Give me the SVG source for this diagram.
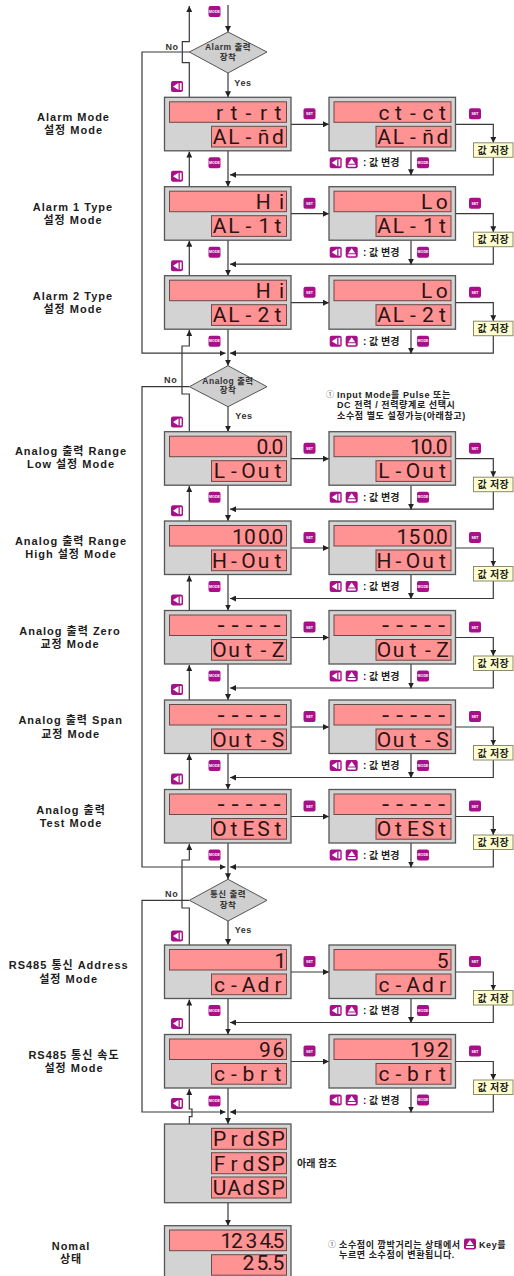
<svg xmlns="http://www.w3.org/2000/svg" width="514" height="1276" viewBox="0 0 514 1276">
<style>
text{font-family:"Liberation Sans","Noto Sans CJK KR",sans-serif;font-weight:700;fill:#1c1c1c}
.lb{font-size:11px;letter-spacing:1px;text-anchor:middle}
.dt{font-size:8.5px;letter-spacing:.5px;text-anchor:middle;fill:#333}
.yn{font-size:9px;letter-spacing:.6px;text-anchor:middle;fill:#333}
.nt{font-size:9px;letter-spacing:.6px;fill:#222}
.ci{font-size:8px;font-weight:400;fill:#555}
.op{font-size:10px;fill:#222}
.sv{font-size:10px;letter-spacing:.3px;text-anchor:middle;fill:#222}
.d{font-family:Roboto,"Liberation Sans",sans-serif;font-weight:400;font-size:21px;text-anchor:middle;fill:#2a1414}
.d2{font-family:"Liberation Mono",monospace;font-weight:400;font-size:22px;text-anchor:middle;fill:#2a1414}
.p{fill:#d3d3d3;stroke:#555;stroke-width:1.3}
.s{fill:#ff9292;stroke:#6a4a4a;stroke-width:1}
.k{fill:#a8108a}
.kt{font-size:3.6px;fill:#fff;text-anchor:middle}
.b{fill:#ffffcf;stroke:#8a8a70;stroke-width:1}
.dm{fill:#cfcfcf;stroke:#555;stroke-width:1}
.c path{fill:none;stroke:#383838;stroke-width:1.2;marker-end:url(#ar)}
</style>
<defs>
<marker id="ar" markerUnits="userSpaceOnUse" markerWidth="6" markerHeight="6" refX="6" refY="3" orient="auto"><path d="M0,0L6,3L0,6Z" fill="#222"/></marker>
<g id="kL"><rect class="k" x="-6" y="-5.5" width="12" height="11" rx="2"/><path d="M-4,0L1.5,-3.5V3.5ZM2.8,-3.5H4.6V3.5H2.8Z" fill="#fff"/></g>
<g id="kU"><rect class="k" x="-6" y="-5.5" width="12" height="11" rx="2"/><path d="M0,-4L3.5,1H-3.5ZM-4,2H4V4H-4Z" fill="#fff"/></g>
</defs>

<g id="connectors" class="c">
<path d="M228,5V32"/><path d="M228,73V97.3"/><path d="M228,151V186.7"/><path d="M228,240V275.7"/><path d="M228,329V365.7"/><path d="M228,406.7V431.7"/><path d="M228,485V521"/><path d="M228,574.5V610.5"/><path d="M228,664V700"/><path d="M228,753.5V789.5"/><path d="M228,843V879.3"/><path d="M228,921V945"/><path d="M228,998.5V1034.5"/><path d="M228,1088V1124"/><path d="M228,1202.7V1225.7"/>
<path d="M189.3,97.3V62.7H182.3V41.7H189.3V6"/><path d="M189.3,186.7V151.5"/><path d="M189.3,275.7V240.7"/><path d="M189.3,431.7V394H182V346H189.3V330"/><path d="M189.3,521V486"/><path d="M189.3,610.5V575.5"/><path d="M189.3,700V665"/><path d="M189.3,789.5V754"/><path d="M189.3,945V908H182V860H189.3V844"/><path d="M189.3,1034.5V999.5"/><path d="M189.3,1124V1116.7H192V1109H189.3V1089"/>
<path d="M189.5,52H142V353.2H225.5"/><path d="M189,386.7H142V867H225.5"/><path d="M189,900.3H142V1112H225.5"/>
<path d="M291,124.3H329"/><path d="M455,124.3H493.3V142.8"/><path d="M493.3,157.3V174.8H230"/><path d="M411,150.8V175.3"/>
<path d="M291,213.7H329"/><path d="M455,213.7H493.3V232.2"/><path d="M493.3,246.7V264.2H230"/><path d="M411,240.2V264.7"/>
<path d="M291,302.7H329"/><path d="M455,302.7H493.3V321.2"/><path d="M493.3,335.7V353.2H230"/><path d="M411,329.2V353.7"/>
<path d="M291,458.7H329"/><path d="M455,458.7H493.3V477.2"/><path d="M493.3,491.7V509.2H230"/><path d="M411,485.2V509.7"/>
<path d="M291,548H329"/><path d="M455,548H493.3V566.5"/><path d="M493.3,581V598.5H230"/><path d="M411,574.5V599"/>
<path d="M291,637.5H329"/><path d="M455,637.5H493.3V656"/><path d="M493.3,670.5V688H230"/><path d="M411,664V688.5"/>
<path d="M291,727H329"/><path d="M455,727H493.3V745.5"/><path d="M493.3,760V777.5H230"/><path d="M411,753.5V778"/>
<path d="M291,816.5H329"/><path d="M455,816.5H493.3V835"/><path d="M493.3,849.5V867H230"/><path d="M411,843V867.5"/>
<path d="M291,972H329"/><path d="M455,972H493.3V990.5"/><path d="M493.3,1005V1022.5H230"/><path d="M411,998.5V1023"/>
<path d="M291,1061.5H329"/><path d="M455,1061.5H493.3V1080"/><path d="M493.3,1094.5V1112H230"/><path d="M411,1088V1112.5"/>
</g>

<g id="decision-alarm"><path class="dm" d="M228,32L267,52L228,73L189.3,52Z"/><text class="dt" x="228" y="49.5">Alarm 출력</text><text class="dt" x="228" y="59.5">장착</text><text class="yn" x="172" y="49.5">No</text><text class="yn" x="243" y="86">Yes</text></g>
<g id="decision-analog"><path class="dm" d="M228,365.7L267,386.7L228,406.7L189.3,386.7Z"/><text class="dt" x="228" y="384">Analog 출력</text><text class="dt" x="228" y="393">장착</text><text class="yn" x="170.7" y="383">No</text><text class="yn" x="244" y="419">Yes</text></g>
<g id="decision-comm"><path class="dm" d="M228,879.3L267,900.3L228,921L189.3,900.3Z"/><text class="dt" x="228" y="897">통신 출력</text><text class="dt" x="228" y="908">장착</text><text class="yn" x="171.7" y="896.5">No</text><text class="yn" x="243.3" y="933">Yes</text></g>

<g id="labels">
<text class="lb" x="73.5" y="121">Alarm Mode</text><text class="lb" x="73.5" y="134">설정 Mode</text>
<text class="lb" x="73" y="211">Alarm 1 Type</text><text class="lb" x="73" y="224">설정 Mode</text>
<text class="lb" x="73" y="300">Alarm 2 Type</text><text class="lb" x="73" y="313">설정 Mode</text>
<text class="lb" x="71" y="455">Analog 출력 Range</text><text class="lb" x="71" y="468">Low 설정 Mode</text>
<text class="lb" x="71" y="545">Analog 출력 Range</text><text class="lb" x="71" y="558">High 설정 Mode</text>
<text class="lb" x="70" y="635">Analog 출력 Zero</text><text class="lb" x="70" y="648">교정 Mode</text>
<text class="lb" x="70.7" y="724">Analog 출력 Span</text><text class="lb" x="70.7" y="737.5">교정 Mode</text>
<text class="lb" x="71" y="814">Analog 출력</text><text class="lb" x="71" y="827">Test Mode</text>
<text class="lb" x="68.7" y="969">RS485 통신 Address</text><text class="lb" x="68.7" y="982.5">설정 Mode</text>
<text class="lb" x="74" y="1059">RS485 통신 속도</text><text class="lb" x="74" y="1072">설정 Mode</text>
<text class="lb" x="71" y="1249.5">Nomal</text><text class="lb" x="71" y="1263">상태</text>
</g>

<g id="notes">
<text class="ci" x="326" y="397">①</text><text class="nt" x="337" y="397.5">Input Mode를 Pulse 또는</text>
<text class="nt" x="337" y="407.5">DC 전력 / 전력량계로 선택시</text>
<text class="nt" x="337" y="418.5">소수점 별도 설정가능(아래참고)</text>
<text class="op" x="297" y="1167">아래 참조</text>
<text class="ci" x="328" y="1247">①</text><text class="nt" x="339" y="1247.5">소수점이 깜박거리는 상태에서</text><use href="#kU" x="470" y="1244"/><text class="nt" x="479" y="1247.5">Key를</text>
<text class="nt" x="339" y="1257.5">누르면 소수점이 변환됩니다.</text>
</g>

<g id="top-mode"><rect class="k" x="208.5" y="6" width="12" height="11" rx="2"/><text class="kt" x="214.5" y="12.8">MODE</text></g>
<use href="#kL" x="177" y="86.5"/><use href="#kL" x="177" y="422"/><use href="#kL" x="177" y="936"/>

<g id="row1" transform="translate(0,97.3)">
<g id="n1a" transform="translate(164.5,0)"><rect class="p" width="126.5" height="53.5"/><rect class="s" x="5" y="4.5" width="117" height="20.5"/><rect class="s" x="47" y="29" width="75" height="20.7"/><text class="d" x="55 69.5 84 99 113.5" y="22.5">rt-rt</text><text class="d" x="55 69.5 84 99 99 113.5" y="46.7">AL-n̄d</text></g>
<g id="n1b" transform="translate(329,0)"><rect class="p" width="126.5" height="53.5"/><rect class="s" x="5" y="4.5" width="117" height="20.5"/><rect class="s" x="47" y="29" width="75" height="20.7"/><text class="d" x="55 69.5 84 99 113.5" y="22.5">ct-ct</text><text class="d" x="55 69.5 84 99 99 113.5" y="46.7">AL-n̄d</text></g>
<g id="s1"><rect class="b" x="473.5" y="45.5" width="39.5" height="14.5"/><text class="sv" x="493.3" y="56.5">값 저장</text></g>
<rect class="k" x="208.5" y="60" width="12" height="11" rx="2"/><text class="kt" x="214.5" y="66.8">MODE</text><rect class="k" x="303.5" y="11" width="12" height="11" rx="2"/><text class="kt" x="309.5" y="18">SET</text><rect class="k" x="469" y="11" width="12" height="11" rx="2"/><text class="kt" x="475" y="18">SET</text><use href="#kL" x="335.7" y="65.5"/><use href="#kU" x="351.7" y="65.5"/><text class="op" x="363" y="69">: 값 변경</text><rect class="k" x="417" y="60" width="12" height="11" rx="2"/><text class="kt" x="423" y="66.8">MODE</text><use href="#kL" x="177" y="79"/>
</g>

<g id="row2" transform="translate(0,186.7)">
<g id="n2a" transform="translate(164.5,0)"><rect class="p" width="126.5" height="53.5"/><rect class="s" x="5" y="4.5" width="117" height="20.5"/><rect class="s" x="47" y="29" width="75" height="20.7"/><text class="d" x="98.8 117" y="22">Hi</text><text class="d" x="55 69.5 84 100 113.5" y="46.7">AL-1t</text></g>
<g id="n2b" transform="translate(329,0)"><rect class="p" width="126.5" height="53.5"/><rect class="s" x="5" y="4.5" width="117" height="20.5"/><rect class="s" x="47" y="29" width="75" height="20.7"/><text class="d" x="97.7 112.7" y="22">Lo</text><text class="d" x="55 69.5 84 100 113.5" y="46.7">AL-1t</text></g>
<g id="s2"><rect class="b" x="473.5" y="45.5" width="39.5" height="14.5"/><text class="sv" x="493.3" y="56.5">값 저장</text></g>
<rect class="k" x="208.5" y="60" width="12" height="11" rx="2"/><text class="kt" x="214.5" y="66.8">MODE</text><rect class="k" x="303.5" y="11" width="12" height="11" rx="2"/><text class="kt" x="309.5" y="18">SET</text><rect class="k" x="469" y="11" width="12" height="11" rx="2"/><text class="kt" x="475" y="18">SET</text><use href="#kL" x="335.7" y="65.5"/><use href="#kU" x="351.7" y="65.5"/><text class="op" x="363" y="69">: 값 변경</text><rect class="k" x="417" y="60" width="12" height="11" rx="2"/><text class="kt" x="423" y="66.8">MODE</text><use href="#kL" x="177" y="79"/>
</g>

<g id="row3" transform="translate(0,275.7)">
<g id="n3a" transform="translate(164.5,0)"><rect class="p" width="126.5" height="53.5"/><rect class="s" x="5" y="4.5" width="117" height="20.5"/><rect class="s" x="47" y="29" width="75" height="20.7"/><text class="d" x="98.8 117" y="22">Hi</text><text class="d" x="55 69.5 84 99 113.5" y="46.7">AL-2t</text></g>
<g id="n3b" transform="translate(329,0)"><rect class="p" width="126.5" height="53.5"/><rect class="s" x="5" y="4.5" width="117" height="20.5"/><rect class="s" x="47" y="29" width="75" height="20.7"/><text class="d" x="97.7 112.7" y="22">Lo</text><text class="d" x="55 69.5 84 99 113.5" y="46.7">AL-2t</text></g>
<g id="s3"><rect class="b" x="473.5" y="45.5" width="39.5" height="14.5"/><text class="sv" x="493.3" y="56.5">값 저장</text></g>
<rect class="k" x="208.5" y="60" width="12" height="11" rx="2"/><text class="kt" x="214.5" y="66.8">MODE</text><rect class="k" x="303.5" y="11" width="12" height="11" rx="2"/><text class="kt" x="309.5" y="18">SET</text><rect class="k" x="469" y="11" width="12" height="11" rx="2"/><text class="kt" x="475" y="18">SET</text><use href="#kL" x="335.7" y="65.5"/><use href="#kU" x="351.7" y="65.5"/><text class="op" x="363" y="69">: 값 변경</text><rect class="k" x="417" y="60" width="12" height="11" rx="2"/><text class="kt" x="423" y="66.8">MODE</text>
</g>

<g id="row4" transform="translate(0,431.7)">
<g id="n4a" transform="translate(164.5,0)"><rect class="p" width="126.5" height="53.5"/><rect class="s" x="5" y="4.5" width="117" height="20.5"/><rect class="s" x="47" y="29" width="75" height="20.7"/><text class="d" x="98 105.5 112.8" y="22.5">0.0</text><text class="d" x="55 69.5 84 99 113.5" y="46.7">L-Out</text></g>
<g id="n4b" transform="translate(329,0)"><rect class="p" width="126.5" height="53.5"/><rect class="s" x="5" y="4.5" width="117" height="20.5"/><rect class="s" x="47" y="29" width="75" height="20.7"/><text class="d" x="87 97.7 105 112.7" y="22.5">10.0</text><text class="d" x="55 69.5 84 99 113.5" y="46.7">L-Out</text></g>
<g id="s4"><rect class="b" x="473.5" y="45.5" width="39.5" height="14.5"/><text class="sv" x="493.3" y="56.5">값 저장</text></g>
<rect class="k" x="208.5" y="60" width="12" height="11" rx="2"/><text class="kt" x="214.5" y="66.8">MODE</text><rect class="k" x="303.5" y="11" width="12" height="11" rx="2"/><text class="kt" x="309.5" y="18">SET</text><rect class="k" x="469" y="11" width="12" height="11" rx="2"/><text class="kt" x="475" y="18">SET</text><use href="#kL" x="335.7" y="65.5"/><use href="#kU" x="351.7" y="65.5"/><text class="op" x="363" y="69">: 값 변경</text><rect class="k" x="417" y="60" width="12" height="11" rx="2"/><text class="kt" x="423" y="66.8">MODE</text><use href="#kL" x="177" y="79"/>
</g>

<g id="row5" transform="translate(0,521)">
<g id="n5a" transform="translate(164.5,0)"><rect class="p" width="126.5" height="53.5"/><rect class="s" x="5" y="4.5" width="117" height="20.5"/><rect class="s" x="47" y="29" width="75" height="20.7"/><text class="d" x="73.5 85.5 99.5 106.5 113" y="22.5">100.0</text><text class="d" x="55 69.5 84 99 113.5" y="46.7">H-Out</text></g>
<g id="n5b" transform="translate(329,0)"><rect class="p" width="126.5" height="53.5"/><rect class="s" x="5" y="4.5" width="117" height="20.5"/><rect class="s" x="47" y="29" width="75" height="20.7"/><text class="d" x="73.5 85.5 99.5 106.5 113" y="22.5">150.0</text><text class="d" x="55 69.5 84 99 113.5" y="46.7">H-Out</text></g>
<g id="s5"><rect class="b" x="473.5" y="45.5" width="39.5" height="14.5"/><text class="sv" x="493.3" y="56.5">값 저장</text></g>
<rect class="k" x="208.5" y="60" width="12" height="11" rx="2"/><text class="kt" x="214.5" y="66.8">MODE</text><rect class="k" x="303.5" y="11" width="12" height="11" rx="2"/><text class="kt" x="309.5" y="18">SET</text><rect class="k" x="469" y="11" width="12" height="11" rx="2"/><text class="kt" x="475" y="18">SET</text><use href="#kL" x="335.7" y="65.5"/><use href="#kU" x="351.7" y="65.5"/><text class="op" x="363" y="69">: 값 변경</text><rect class="k" x="417" y="60" width="12" height="11" rx="2"/><text class="kt" x="423" y="66.8">MODE</text><use href="#kL" x="177" y="79"/>
</g>

<g id="row6" transform="translate(0,610.5)">
<g id="n6a" transform="translate(164.5,0)"><rect class="p" width="126.5" height="53.5"/><rect class="s" x="5" y="4.5" width="117" height="20.5"/><rect class="s" x="47" y="29" width="75" height="20.7"/><text class="d2" x="56.5 70.5 84.5 98.5 112.5" y="21.5">-----</text><text class="d" x="55 69.5 84 99 113.5" y="46.7">Out-Z</text></g>
<g id="n6b" transform="translate(329,0)"><rect class="p" width="126.5" height="53.5"/><rect class="s" x="5" y="4.5" width="117" height="20.5"/><rect class="s" x="47" y="29" width="75" height="20.7"/><text class="d2" x="56.5 70.5 84.5 98.5 112.5" y="21.5">-----</text><text class="d" x="55 69.5 84 99 113.5" y="46.7">Out-Z</text></g>
<g id="s6"><rect class="b" x="473.5" y="45.5" width="39.5" height="14.5"/><text class="sv" x="493.3" y="56.5">값 저장</text></g>
<rect class="k" x="208.5" y="60" width="12" height="11" rx="2"/><text class="kt" x="214.5" y="66.8">MODE</text><rect class="k" x="303.5" y="11" width="12" height="11" rx="2"/><text class="kt" x="309.5" y="18">SET</text><rect class="k" x="469" y="11" width="12" height="11" rx="2"/><text class="kt" x="475" y="18">SET</text><use href="#kL" x="335.7" y="65.5"/><use href="#kU" x="351.7" y="65.5"/><text class="op" x="363" y="69">: 값 변경</text><rect class="k" x="417" y="60" width="12" height="11" rx="2"/><text class="kt" x="423" y="66.8">MODE</text><use href="#kL" x="177" y="79"/>
</g>

<g id="row7" transform="translate(0,700)">
<g id="n7a" transform="translate(164.5,0)"><rect class="p" width="126.5" height="53.5"/><rect class="s" x="5" y="4.5" width="117" height="20.5"/><rect class="s" x="47" y="29" width="75" height="20.7"/><text class="d2" x="56.5 70.5 84.5 98.5 112.5" y="21.5">-----</text><text class="d" x="55 69.5 84 99 113.5" y="46.7">Out-S</text></g>
<g id="n7b" transform="translate(329,0)"><rect class="p" width="126.5" height="53.5"/><rect class="s" x="5" y="4.5" width="117" height="20.5"/><rect class="s" x="47" y="29" width="75" height="20.7"/><text class="d2" x="56.5 70.5 84.5 98.5 112.5" y="21.5">-----</text><text class="d" x="55 69.5 84 99 113.5" y="46.7">Out-S</text></g>
<g id="s7"><rect class="b" x="473.5" y="45.5" width="39.5" height="14.5"/><text class="sv" x="493.3" y="56.5">값 저장</text></g>
<rect class="k" x="208.5" y="60" width="12" height="11" rx="2"/><text class="kt" x="214.5" y="66.8">MODE</text><rect class="k" x="303.5" y="11" width="12" height="11" rx="2"/><text class="kt" x="309.5" y="18">SET</text><rect class="k" x="469" y="11" width="12" height="11" rx="2"/><text class="kt" x="475" y="18">SET</text><use href="#kL" x="335.7" y="65.5"/><use href="#kU" x="351.7" y="65.5"/><text class="op" x="363" y="69">: 값 변경</text><rect class="k" x="417" y="60" width="12" height="11" rx="2"/><text class="kt" x="423" y="66.8">MODE</text><use href="#kL" x="177" y="79"/>
</g>

<g id="row8" transform="translate(0,789.5)">
<g id="n8a" transform="translate(164.5,0)"><rect class="p" width="126.5" height="53.5"/><rect class="s" x="5" y="4.5" width="117" height="20.5"/><rect class="s" x="47" y="29" width="75" height="20.7"/><text class="d2" x="56.5 70.5 84.5 98.5 112.5" y="21.5">-----</text><text class="d" x="55 69.5 84 99 113.5" y="46.7">OtESt</text></g>
<g id="n8b" transform="translate(329,0)"><rect class="p" width="126.5" height="53.5"/><rect class="s" x="5" y="4.5" width="117" height="20.5"/><rect class="s" x="47" y="29" width="75" height="20.7"/><text class="d2" x="56.5 70.5 84.5 98.5 112.5" y="21.5">-----</text><text class="d" x="55 69.5 84 99 113.5" y="46.7">OtESt</text></g>
<g id="s8"><rect class="b" x="473.5" y="45.5" width="39.5" height="14.5"/><text class="sv" x="493.3" y="56.5">값 저장</text></g>
<rect class="k" x="208.5" y="60" width="12" height="11" rx="2"/><text class="kt" x="214.5" y="66.8">MODE</text><rect class="k" x="303.5" y="11" width="12" height="11" rx="2"/><text class="kt" x="309.5" y="18">SET</text><rect class="k" x="469" y="11" width="12" height="11" rx="2"/><text class="kt" x="475" y="18">SET</text><use href="#kL" x="335.7" y="65.5"/><use href="#kU" x="351.7" y="65.5"/><text class="op" x="363" y="69">: 값 변경</text><rect class="k" x="417" y="60" width="12" height="11" rx="2"/><text class="kt" x="423" y="66.8">MODE</text>
</g>

<g id="row9" transform="translate(0,945)">
<g id="n9a" transform="translate(164.5,0)"><rect class="p" width="126.5" height="53.5"/><rect class="s" x="5" y="4.5" width="117" height="20.5"/><rect class="s" x="47" y="29" width="75" height="20.7"/><text class="d" x="116" y="22.5">1</text><text class="d" x="55 69.5 84 99 113.5" y="46.7">c-Adr</text></g>
<g id="n9b" transform="translate(329,0)"><rect class="p" width="126.5" height="53.5"/><rect class="s" x="5" y="4.5" width="117" height="20.5"/><rect class="s" x="47" y="29" width="75" height="20.7"/><text class="d" x="113.7" y="22.5">5</text><text class="d" x="55 69.5 84 99 113.5" y="46.7">c-Adr</text></g>
<g id="s9"><rect class="b" x="473.5" y="45.5" width="39.5" height="14.5"/><text class="sv" x="493.3" y="56.5">값 저장</text></g>
<rect class="k" x="208.5" y="60" width="12" height="11" rx="2"/><text class="kt" x="214.5" y="66.8">MODE</text><rect class="k" x="303.5" y="11" width="12" height="11" rx="2"/><text class="kt" x="309.5" y="18">SET</text><rect class="k" x="469" y="11" width="12" height="11" rx="2"/><text class="kt" x="475" y="18">SET</text><use href="#kL" x="335.7" y="65.5"/><use href="#kU" x="351.7" y="65.5"/><text class="op" x="363" y="69">: 값 변경</text><rect class="k" x="417" y="60" width="12" height="11" rx="2"/><text class="kt" x="423" y="66.8">MODE</text><use href="#kL" x="177" y="78.5"/>
</g>

<g id="row10" transform="translate(0,1034.5)">
<g id="n10a" transform="translate(164.5,0)"><rect class="p" width="126.5" height="53.5"/><rect class="s" x="5" y="4.5" width="117" height="20.5"/><rect class="s" x="47" y="29" width="75" height="20.7"/><text class="d" x="100.5 113.8" y="22.5">96</text><text class="d" x="55 69.5 84 99 113.5" y="46.7">c-brt</text></g>
<g id="n10b" transform="translate(329,0)"><rect class="p" width="126.5" height="53.5"/><rect class="s" x="5" y="4.5" width="117" height="20.5"/><rect class="s" x="47" y="29" width="75" height="20.7"/><text class="d" x="87 100 114" y="22.5">192</text><text class="d" x="55 69.5 84 99 113.5" y="46.7">c-brt</text></g>
<g id="s10"><rect class="b" x="473.5" y="45.5" width="39.5" height="14.5"/><text class="sv" x="493.3" y="56.5">값 저장</text></g>
<rect class="k" x="208.5" y="61" width="12" height="11" rx="2"/><text class="kt" x="214.5" y="67.8">MODE</text><rect class="k" x="303.5" y="11" width="12" height="11" rx="2"/><text class="kt" x="309.5" y="18">SET</text><rect class="k" x="469" y="11" width="12" height="11" rx="2"/><text class="kt" x="475" y="18">SET</text><use href="#kL" x="335.7" y="65.5"/><use href="#kU" x="351.7" y="65.5"/><text class="op" x="363" y="69">: 값 변경</text><rect class="k" x="417" y="60" width="12" height="11" rx="2"/><text class="kt" x="423" y="66.8">MODE</text><use href="#kL" x="177" y="69"/>
</g>

<g id="display-select" transform="translate(164.5,1124)"><rect class="p" width="126.5" height="78.7"/><rect class="s" x="47" y="4.3" width="75" height="21"/><rect class="s" x="47" y="28.7" width="75" height="21"/><rect class="s" x="47" y="53" width="75" height="21"/><text class="d" x="55 69.5 84 99 113.5" y="22">PrdSP</text><text class="d" x="55 69.5 84 99 113.5" y="46.5">FrdSP</text><text class="d" x="55 69.5 84 99 113.5" y="71">UAdSP</text></g>
<g id="normal" transform="translate(164.5,1225.7)"><rect class="p" width="126.5" height="60"/><rect class="s" x="5" y="4.3" width="117" height="20.7"/><rect class="s" x="47" y="29" width="75" height="20.5"/><text class="d" x="62 72.5 87 101 107.5 114" y="22.5">1234.5</text><text class="d" x="83.8 98 105.5 113.8" y="44.8">25.5</text></g>
</svg>
